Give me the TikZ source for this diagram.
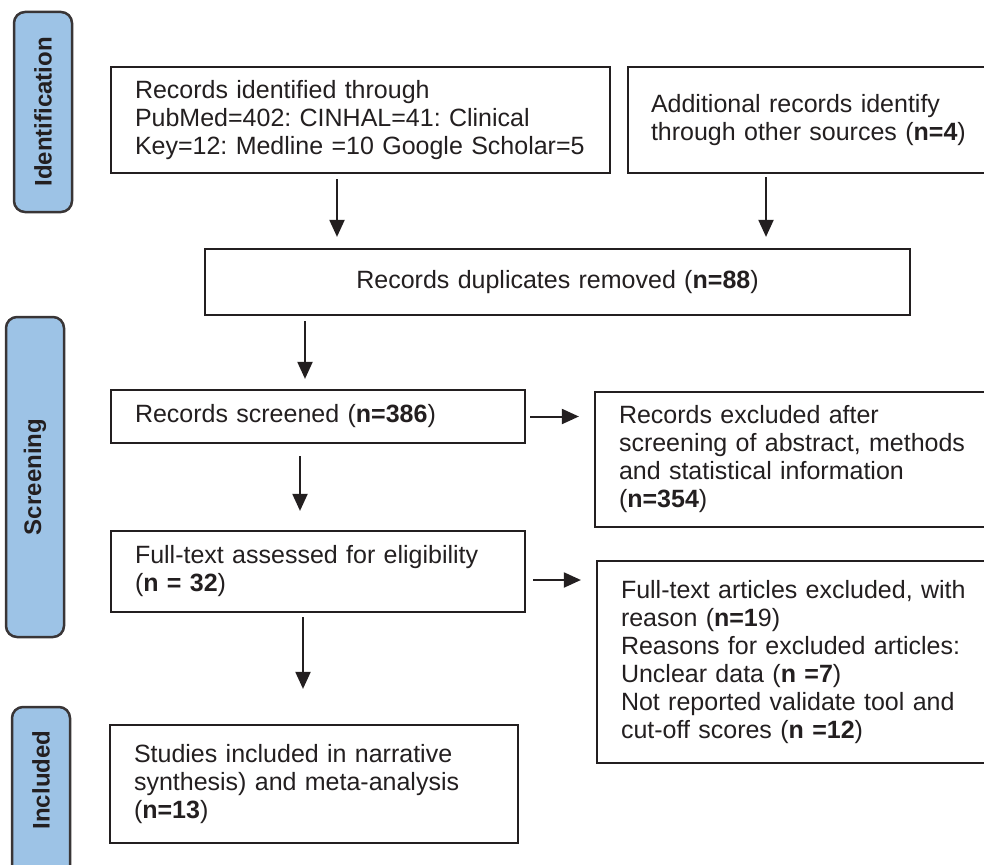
\documentclass[tikz,border=0pt]{standalone}
\usepackage{fontspec}
\setmainfont{Liberation Sans}
\usepackage{xcolor}
\usetikzlibrary{arrows.meta}
\definecolor{tabblue}{RGB}{157,195,230}
\definecolor{ink}{RGB}{35,31,32}
\frenchspacing

\begin{document}
\begin{tikzpicture}[x=1pt, y=-1pt, font=\fontsize{25}{28}\selectfont,
  record/.style={rectangle, draw=ink, line width=2.2pt, fill=white, text=ink,
    align=left, inner xsep=24pt, inner ysep=0pt},
  %
  stage/.style={rectangle, rounded corners=11pt, draw=ink!90, line width=2.5pt,
    fill=tabblue, minimum width=58pt},
  %
  stagelabel/.style={rotate=90, text=ink, font=\fontsize{24}{28}\selectfont\bfseries},
  %
  flow/.style={-{Triangle[length=17pt, width=15pt]}, line width=2pt, draw=ink}
  ]

  \useasboundingbox (0,0) rectangle (984,864);
  \clip (0,0) rectangle (984,864);

  \begin{scope}
    % stage tabs on the left
    \node [stage, minimum height=200pt] (tid) at (43,112) {};
    \node [stagelabel] at (tid) {Identification};
    \node [stage, minimum height=320pt] (tscr) at (35,477) {};
    \node [stagelabel] at (tscr) {Screening};
    \node [stage, minimum height=180pt] (tinc) at (41,797) {};
    \node [stagelabel] at (41,780) {Included};
  \end{scope}

  \begin{scope}
    %%%%%%%%%%%%%%%%%%%%%%%%%%%%%%%
    \node [record, text width=451pt, minimum height=106pt] (ident) at (360.5,120)
      {Records identified through\\
       PubMed=402: CINHAL=41: Clinical\\
       Key=12: Medline =10 Google Scholar=5};
    \node [record, inner xsep=23pt, text width=336pt, minimum height=106pt] (other) at (819,120)
      {Additional records identify\\
       through other sources (\textbf{n=4})};
    %%%%%%%%%%%%%%%%%%%%%%%%%%%%%%%
    \node [record, align=center, text width=657pt, minimum height=66pt] (dup) at (557.5,282)
      {Records duplicates removed (\textbf{n=88})};
    %%%%%%%%%%%%%%%%%%%%%%%%%%%%%%%
    \node [record, text width=366pt, minimum height=53pt] (scr) at (318,416.5)
      {Records screened (\textbf{n=386})};
    \node [record, text width=367pt, minimum height=135pt] (excl) at (802.5,459.5)
      {Records excluded after\\
       screening of abstract, methods\\
       and statistical information\\
       (\textbf{n=354})};
    %%%%%%%%%%%%%%%%%%%%%%%%%%%%%%%
    \node [record, text width=366pt, minimum height=81pt] (full) at (318,571.5)
      {Full-text assessed for eligibility\\
       (\textbf{n = 32})};
    \node [record, text width=365pt, minimum height=202pt] (ftex) at (803.5,662)
      {Full-text articles excluded, with\\
       reason (\textbf{n=1}9)\\
       Reasons for excluded articles:\\
       Unclear data (\textbf{n =7})\\
       Not reported validate tool and\\
       cut-off scores (\textbf{n =12})};
    %%%%%%%%%%%%%%%%%%%%%%%%%%%%%%%
    \node [record, text width=360pt, minimum height=118pt] (incl) at (314,784)
      {Studies included in narrative\\
       synthesis) and meta-analysis\\
       (\textbf{n=13})};
  \end{scope}

  \begin{scope}
    \draw [flow, shorten <=5pt, shorten >=11pt]
      ([xshift=-23.5pt]ident.south) -- ([xshift=-23.5pt]ident.south |- dup.north);
    \draw [flow, shorten <=3pt, shorten >=11pt]
      ([xshift=-53pt]other.south) -- ([xshift=-53pt]other.south |- dup.north);
    \draw [flow, shorten <=5pt, shorten >=10pt]
      ([xshift=-13pt]scr.north |- dup.south) -- ([xshift=-13pt]scr.north);
    \draw [flow, shorten <=4pt, shorten >=15pt]
      (scr.east) -- (scr.east -| excl.west);
    \draw [flow, shorten <=12pt, shorten >=19pt]
      ([xshift=-18pt]scr.south) -- ([xshift=-18pt]full.north);
    \draw [flow, shorten <=7pt, shorten >=15pt]
      ([yshift=-8.5pt]full.east) -- ([yshift=-8.5pt]full.east -| ftex.west);
    \draw [flow, shorten <=4pt, shorten >=35pt]
      ([xshift=-15pt]full.south) -- ([xshift=-15pt]full.south |- incl.north);
  \end{scope}

\end{tikzpicture}
\end{document}
